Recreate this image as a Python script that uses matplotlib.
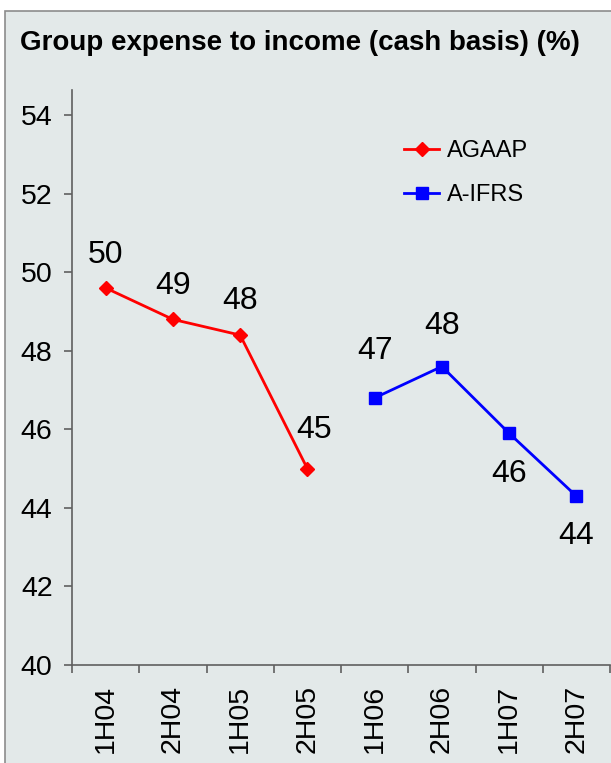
import matplotlib
matplotlib.use("Agg")
import matplotlib.pyplot as plt
from matplotlib.patches import Rectangle

plt.rcParams['font.family'] = ['Liberation Sans', 'DejaVu Sans']

# 데이터
periods = ['1H04', '2H04', '1H05', '2H05', '1H06', '2H06', '1H07', '2H07']
agaap = [49.6, 48.8, 48.4, 45.0]
ifrs = [46.8, 47.6, 45.9, 44.3]
agaap_labels = ['50', '49', '48', '45']
ifrs_labels = ['47', '48', '46', '44']
y_ticks = [40, 42, 44, 46, 48, 50, 52, 54]

W, H = 611, 763
fig = plt.figure(figsize=(W / 100, H / 100), dpi=100)
fig.patch.set_facecolor('white')

# 차트 배경 + 테두리
bg = '#E3E9E9'
fig.patches.append(Rectangle((5 / W, -0.01), 1.0, 1 - 11 / H + 0.01, transform=fig.transFigure,
                             facecolor=bg, edgecolor='#8C8C8C', linewidth=1.2, zorder=-5))

ax = fig.add_axes([72 / W, 98 / H, (610 - 72) / W, (665 - 90) / H])
ax.set_zorder(2)
ax.patch.set_alpha(0)

x_a = list(range(0, 4))
x_i = list(range(4, 8))
ax.plot(x_a, agaap, color='#FF0000', lw=2, marker='D', ms=7.5, label='AGAAP', zorder=3)
ax.plot(x_i, ifrs, color='#0000FF', lw=2, marker='s', ms=8, label='A-IFRS', zorder=3)

# 데이터 라벨 (픽셀 오프셋)
a_offsets = [(0, 33), (0, 33), (0, 34), (7, 39)]
for xi, v, t, (dx, dy) in zip(x_a, agaap, agaap_labels, a_offsets):
    ax.annotate(t, (xi, v), xytext=(dx, dy), textcoords='offset pixels',
                ha='center', va='center', fontsize=23)
i_offsets = [(0, 47), (0, 41), (0, -41), (0, -40)]
for xi, v, t, (dx, dy) in zip(x_i, ifrs, ifrs_labels, i_offsets):
    ax.annotate(t, (xi, v), xytext=(dx, dy), textcoords='offset pixels',
                ha='center', va='center', fontsize=23)

ax.set_xlim(-0.5, 7.5)
ax.set_ylim(40, 54.64)
ax.set_yticks(y_ticks)
ax.set_yticklabels([str(t) for t in y_ticks], fontsize=20.5)
ax.set_xticks([i + 0.5 for i in range(-1, 8)], minor=False)
ax.set_xticklabels([''] * 9)
ax.set_xticks(range(8), minor=True)
ax.set_xticklabels(periods, minor=True, rotation=90, fontsize=20.5)
ax.tick_params(axis='x', which='minor', length=0, pad=14)
ax.tick_params(axis='x', which='major', length=6, width=1.2, color='#606060', direction='out')
ax.tick_params(axis='y', length=6, width=1.2, color='#606060', direction='out', pad=8)

for s in ['top', 'right']:
    ax.spines[s].set_visible(False)
for s in ['left', 'bottom']:
    ax.spines[s].set_color('#606060')
    ax.spines[s].set_linewidth(1.2)

fig.text(20 / W, 1 - 43 / H, 'Group expense to income (cash basis) (%)',
         fontsize=20, fontweight='bold', ha='left', va='center')

ax.legend(loc='upper left', bbox_to_anchor=(404 / W, 1 - 140 / H), bbox_transform=fig.transFigure,
          frameon=False, fontsize=17, handlelength=1.5, handletextpad=0.3,
          labelspacing=0.95, borderpad=0, borderaxespad=0)

fig.savefig('out.png', dpi=100, facecolor=fig.get_facecolor())
